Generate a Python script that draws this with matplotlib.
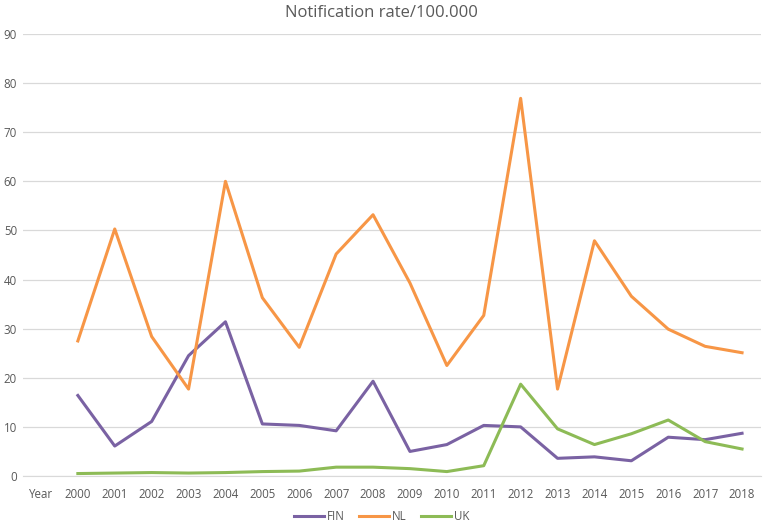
import matplotlib.pyplot as plt

# categories on x axis (first one is the "Year" header cell)
categories = ['Year'] + [str(y) for y in range(2000, 2019)]
years = list(range(2000, 2019))

fin = [16.4, 6.1, 11.1, 24.5, 31.4, 10.6, 10.3, 9.2, 19.3, 5.0,
       6.4, 10.3, 10.0, 3.6, 3.9, 3.1, 7.9, 7.4, 8.7]
nl = [27.5, 50.3, 28.4, 17.7, 60.0, 36.3, 26.2, 45.2, 53.2, 39.3,
      22.5, 32.7, 76.9, 17.7, 47.9, 36.6, 29.9, 26.4, 25.1]
uk = [0.5, 0.6, 0.7, 0.6, 0.7, 0.9, 1.0, 1.8, 1.8, 1.5,
      0.9, 2.1, 18.7, 9.6, 6.4, 8.6, 11.4, 7.0, 5.5]

plt.rcParams['font.family'] = ['Open Sans', 'DejaVu Sans']
grey = '#595959'

fig = plt.figure(figsize=(7.63, 5.22), dpi=100)
ax = fig.add_axes([22.5 / 763, 46 / 522, 738 / 763, 442 / 522])

x = list(range(1, len(categories)))
ax.plot(x, fin, color='#7A62A3', lw=2.2, label='FIN', solid_joinstyle='round')
ax.plot(x, nl, color='#F79646', lw=2.2, label='NL', solid_joinstyle='round')
ax.plot(x, uk, color='#8DBB56', lw=2.2, label='UK', solid_joinstyle='round')

ax.set_xlim(-0.5, len(categories) - 0.5)
ax.set_ylim(0, 90)
ax.set_yticks(range(0, 91, 10))
ax.set_xticks(range(len(categories)))
ax.set_xticklabels(categories)
ax.grid(axis='y', color='#D9D9D9', lw=0.9)
ax.set_axisbelow(True)
for s in ['top', 'right', 'left']:
    ax.spines[s].set_visible(False)
ax.spines['bottom'].set_color('#D9D9D9')
ax.tick_params(axis='both', length=0, labelsize=8.3, colors=grey)
ax.tick_params(axis='x', pad=9)
ax.tick_params(axis='y', pad=4)

fig.suptitle('Notification rate/100.000', y=0.99, fontsize=12, color=grey)
fig.legend(loc='center', ncol=3, frameon=False, fontsize=8.3,
           bbox_to_anchor=(0.5, 5 / 522), handlelength=2.6, labelcolor=grey,
           columnspacing=1.2, handletextpad=0.3)

fig.savefig('out.png')
